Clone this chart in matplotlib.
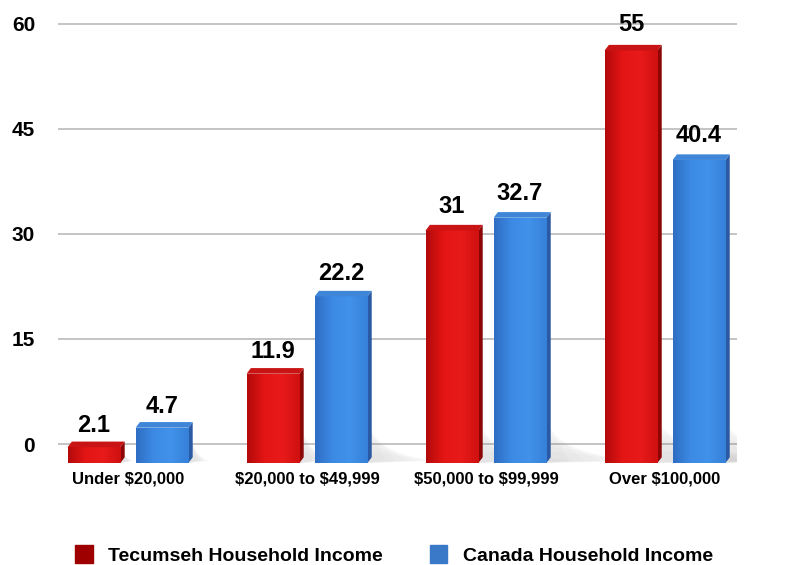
import numpy as np
import matplotlib
matplotlib.use("Agg")
import matplotlib.pyplot as plt
from matplotlib.colors import LinearSegmentedColormap
from matplotlib.patches import Patch, Polygon

categories = ["Under $20,000", "$20,000 to $49,999", "$50,000 to $99,999", "Over $100,000"]
tecumseh = [2.1, 11.9, 31, 55]
canada = [4.7, 22.2, 32.7, 40.4]
series_names = ["Tecumseh Household Income", "Canada Household Income"]
y_ticks = [0, 15, 30, 45, 60]

plt.rcParams['font.family'] = ['Liberation Sans', 'DejaVu Sans']
plt.rcParams['font.weight'] = 'bold'
plt.rcParams['text.parse_math'] = False

fig = plt.figure(figsize=(7.88, 5.65), dpi=100)
ax = fig.add_axes([58/788, 99/565, 679/788, 461/565])

ax.set_xlim(-0.391, 3.402)
ax.set_ylim(-3.14, 62.7)

# gridlines on the back wall
for t in y_ticks:
    ax.axhline(t, color="#c4c4c4", lw=1.4, zorder=0)

x = np.arange(len(categories))
width = 0.295
offset = 0.19
floor = -2.7      # front edge of the floor, below the back-wall zero
depth_scale = 1.071  # front faces are a bit closer, so they look taller
dx, dy = 0.024, 0.8

styles = [
    dict(cm=["#b40a0a", "#e41515", "#e81a1a", "#d01010"], side="#8c0606", top="#c81414", legend="#9e0000"),
    dict(cm=["#2f6ec4", "#3c8ae4", "#4192ea", "#3680d8"], side="#2a5aa4", top="#3f86d8", legend="#3a78c8"),
]

for vals, xpos, st in [(tecumseh, x - offset, styles[0]), (canada, x + offset, styles[1])]:
    heights = [v * depth_scale for v in vals]
    bars = ax.bar(xpos, heights, width=width, bottom=floor, color=st["cm"][1], zorder=3, lw=0)
    cmap = LinearSegmentedColormap.from_list("g", st["cm"])
    grad = np.linspace(0, 1, 64).reshape(1, -1)
    for b, v in zip(bars, vals):
        x0, y0 = b.get_x(), b.get_y()
        w, h = b.get_width(), b.get_height()
        im = ax.imshow(grad, cmap=cmap, extent=[x0, x0 + w, y0, y0 + h], aspect="auto", zorder=3.5)
        im.set_clip_path(b)
        # soft shadow on the floor
        for k in range(6):
            sh = Polygon([[x0 + w, y0], [x0 + w, y0 + min(h, 6) * (1 - k / 7)],
                          [x0 + w + 0.04 + 0.0025 * h * (k + 1), y0 + 0.3]],
                         closed=True, color="#808080", alpha=0.035, lw=0, zorder=1)
            ax.add_patch(sh)
        # side and top faces
        side = Polygon([[x0 + w, y0], [x0 + w + dx, y0 + dy], [x0 + w + dx, y0 + h + dy], [x0 + w, y0 + h]],
                       closed=True, color=st["side"], lw=0, zorder=3.4)
        top = Polygon([[x0, y0 + h], [x0 + dx, y0 + h + dy], [x0 + w + dx, y0 + h + dy], [x0 + w, y0 + h]],
                      closed=True, color=st["top"], lw=0, zorder=3.6)
        ax.add_patch(side)
        ax.add_patch(top)
        ax.text(x0 + w / 2, y0 + h + 2.1 + 0.012 * v, f"{v:g}",
                ha="center", va="baseline", fontsize=17, fontweight="bold", zorder=5)

ax.set_yticks(y_ticks)
ax.set_yticklabels([str(t) for t in y_ticks], fontsize=15, fontweight="bold")
ax.set_xticks(x)
ax.set_xticklabels(categories, fontsize=12, fontweight="bold")
ax.tick_params(axis="y", length=0, pad=16.5)
ax.tick_params(axis="x", length=0, pad=4)
for s in ax.spines.values():
    s.set_visible(False)

handles = [Patch(color=styles[0]["legend"]), Patch(color=styles[1]["legend"])]
fig.legend(handles, series_names, loc="center", bbox_to_anchor=(0.5, 0.018), ncol=2, frameon=False,
           handlelength=0.9, handleheight=1.0, handletextpad=0.8, columnspacing=2.4,
           prop=dict(weight="bold", size=14))

fig.savefig("out.png", dpi=100)
